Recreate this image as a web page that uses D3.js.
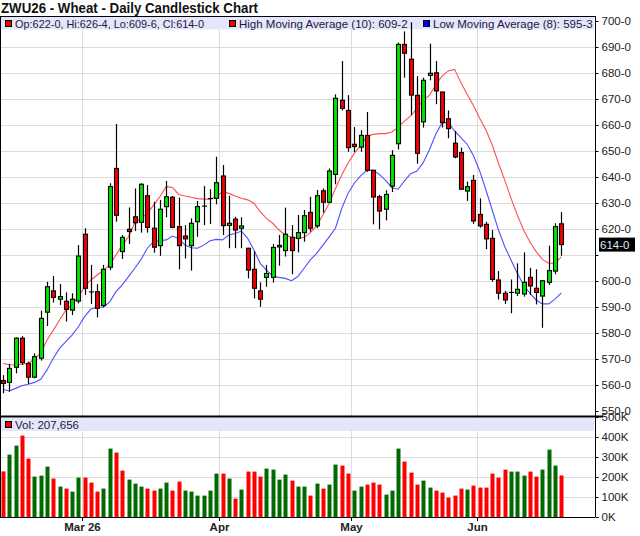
<!DOCTYPE html>
<html>
<head>
<meta charset="utf-8">
<script src="https://cdn.jsdelivr.net/npm/d3@7"></script>
<style>
  body { margin: 0; background: #fff; }
  svg text { font-family: "Liberation Sans", Arial, sans-serif; }
</style>
</head>
<body>
<div id="chart"></div>
<script>
// daily bars, oldest first
const opens = [561.7,561.0,566.8,578.0,568.3,563.0,570.3,588.0,596.2,593.0,
  592.2,588.8,592.3,618.0,595.8,595.9,590.6,605.3,643.3,611.3,
  619.9,624.7,622.6,632.8,620.3,613.6,628.6,632.2,620.9,617.3,
  613.6,622.8,628.8,631.7,631.8,640.4,621.4,623.8,620.3,612.6,
  604.5,596.2,601.4,601.4,613.1,611.7,616.8,616.4,618.6,626.4,
  621.2,634.7,630.3,641.0,669.5,665.6,652.6,651.5,656.0,642.6,
  632.4,627.6,636.5,652.8,691.0,685.3,671.4,661.2,679.1,680.1,
  672.7,662.4,653.0,649.4,634.6,638.7,625.6,621.8,616.4,600.4,
  595.3,595.6,595.3,595.0,601.4,597.2,594.2,599.5,603.8,622.0];
const highs = [563.8,568.1,578.3,578.8,569.0,572.2,588.6,599.7,601.9,598.8,
  595.6,595.3,613.8,620.3,606.2,598.8,606.2,637.6,660.4,617.7,
  628.3,635.6,637.6,636.9,630.5,631.2,638.5,632.7,632.1,621.5,
  624.1,630.8,636.5,635.3,647.8,644.6,632.8,624.7,624.5,612.8,
  611.5,599.5,606.2,614.2,617.7,628.2,621.5,625.4,627.3,632.4,
  635.0,635.6,643.3,671.8,684.6,671.5,659.2,658.0,665.0,642.6,
  633.1,634.9,650.3,691.7,696.0,699.5,678.8,678.2,691.3,684.6,
  672.7,665.6,657.7,651.3,638.2,640.8,631.8,622.8,619.6,603.8,
  596.2,600.6,606.8,611.0,605.1,604.5,600.4,613.6,622.2,626.5];
const lows = [556.8,557.4,564.5,567.7,560.4,562.6,569.4,582.7,591.7,590.8,
  584.4,586.9,591.4,594.6,591.2,586.0,589.9,604.2,622.8,608.5,
  614.2,619.2,618.6,618.6,610.9,609.7,624.5,620.3,604.5,608.7,
  604.0,617.0,621.5,621.9,629.5,617.7,612.6,612.6,612.6,601.0,
  593.3,590.1,597.8,599.4,605.9,609.4,602.6,611.0,615.1,619.0,
  620.3,626.3,629.9,637.2,665.6,649.7,649.6,649.7,642.0,621.8,
  619.9,623.3,634.2,650.6,678.2,663.8,645.1,659.0,677.2,668.0,
  659.0,654.9,647.2,635.3,630.8,622.0,620.5,612.2,599.7,592.9,
  591.2,587.6,594.2,594.0,594.6,591.0,582.0,598.5,602.6,609.75];
const closes = [560.6,566.4,578.0,568.6,563.0,570.9,585.6,597.8,593.7,594.0,
  589.1,593.0,609.6,597.2,595.8,589.5,604.5,636.3,625.3,616.8,
  619.0,622.4,637.2,620.6,613.0,627.6,632.4,620.6,613.6,616.2,
  622.2,628.6,628.8,631.7,637.8,621.3,622.2,619.6,621.2,604.2,
  597.2,593.0,602.9,612.9,613.7,618.0,611.7,618.6,625.1,620.3,
  632.8,630.3,642.3,670.3,666.4,651.3,651.7,656.0,642.6,632.3,
  626.9,633.3,648.3,691.0,687.6,671.5,649.1,677.2,679.9,673.1,
  660.9,658.6,647.7,635.3,636.3,623.1,621.2,616.2,600.6,595.3,
  592.7,595.6,596.8,599.5,598.1,595.6,600.1,604.0,620.9,614.0];
const volumes = [228000,312000,357000,407000,292000,202000,207000,252000,192000,152000,
  142000,127000,197000,197000,172000,127000,142000,342000,322000,232000,
  187000,167000,152000,142000,132000,142000,172000,132000,177000,132000,
  127000,107000,107000,132000,217000,217000,192000,92000,137000,227000,
  227000,202000,242000,237000,187000,212000,182000,152000,152000,107000,
  167000,142000,162000,262000,257000,217000,132000,152000,162000,172000,
  162000,112000,132000,342000,277000,222000,162000,182000,147000,132000,
  122000,97000,107000,142000,137000,157000,147000,147000,217000,197000,
  237000,227000,227000,207000,227000,202000,237000,337000,257000,207656];
// moving averages as drawn on the chart
const highMA = [568.3,567.8,567.7,568.0,568.3,570.0,572.2,577.3,581.0,585.0,
  588.8,590.8,594.0,597.8,600.4,602.3,604.2,606.2,610.0,613.8,
  617.0,622.4,624.1,626.0,629.2,632.4,636.3,636.0,633.3,632.7,
  632.2,631.7,631.5,631.5,632.4,634.4,633.7,632.7,631.8,631.2,
  629.9,626.7,624.1,622.2,619.6,617.7,616.8,616.4,616.8,618.6,
  621.2,625.4,629.9,635.6,640.8,645.3,649.1,652.0,655.6,656.4,
  656.7,656.7,657.3,659.2,661.5,663.5,666.4,669.5,671.5,675.4,
  678.8,680.8,681.4,676.3,671.8,667.5,662.6,658.1,652.3,645.3,
  638.8,631.8,625.4,619.6,615.1,611.3,608.3,606.8,606.8,609.25];
const lowMA = [558.3,557.7,558.7,559.7,560.3,561.0,562.2,565.8,570.3,574.1,
  576.7,579.2,582.4,586.3,589.2,589.9,589.9,592.0,595.9,598.5,
  601.7,604.9,608.3,612.6,615.1,615.5,615.8,617.3,616.4,613.8,
  612.8,612.6,613.8,615.5,616.0,615.8,617.7,618.3,619.2,616.4,
  611.9,606.8,604.2,601.9,601.4,601.0,600.1,601.7,604.9,608.1,
  610.6,613.8,617.0,620.3,627.9,633.7,637.6,640.4,642.6,642.6,
  641.0,638.7,635.9,635.3,638.5,641.3,642.3,645.5,650.6,656.4,
  660.9,660.9,657.7,655.1,652.6,648.3,642.3,635.0,627.3,619.6,
  613.2,608.1,603.0,598.5,595.3,592.7,591.2,591.2,593.0,595.375];

const monthIdx = [13, 35, 56, 76];
const monthLabels = ["Mar 26", "Apr", "May", "Jun"];
const priceTicks = d3.range(550, 701, 10);
const volTicks = [0, 100000, 200000, 300000, 400000, 500000];

const W = 640, H = 536;
const plotR = 595;
const priceTop = 16, sepY = 416.5, volBottom = 517;

const bars = opens.map((o, i) => ({
  i, o, h: highs[i], l: lows[i], c: closes[i], v: volumes[i],
  up: i === 0 ? closes[i] > opens[i] : closes[i] >= closes[i - 1]
}));

// prices are quoted in eighths: 626.5 -> "626-4"
const fmtPrice = p => {
  const w = Math.floor(p + 1e-9);
  return w + "-" + Math.round((p - w) * 8);
};

const svg = d3.select("#chart").append("svg")
  .attr("width", W).attr("height", H);

const x = d3.scaleLinear().domain([0, bars.length - 1]).range([3.1, 561.2]);
const y = d3.scaleLinear().domain([550, 700]).range([411, 21]);
const yv = d3.scaleLinear().domain([0, 500000]).range([volBottom, 417]);
const monthX = d => Math.round(x(d) - 3.1) + 0.5;

// title
svg.append("text")
  .attr("x", 1).attr("y", 13)
  .attr("textLength", 257).attr("lengthAdjust", "spacingAndGlyphs")
  .style("font-size", "15px").style("font-weight", "bold").style("fill", "#111")
  .text("ZWU26 - Wheat - Daily Candlestick Chart");

// grids
const grid = svg.append("g").attr("stroke", "#dcdcdc").attr("stroke-width", 1);
grid.selectAll(".hg").data(priceTicks.filter(d => d > 550)).join("line")
  .attr("x1", 0).attr("x2", plotR)
  .attr("y1", d => Math.round(y(d)) + 0.5).attr("y2", d => Math.round(y(d)) + 0.5);
grid.selectAll(".vg").data(volTicks.slice(1, 5)).join("line")
  .attr("x1", 0).attr("x2", plotR)
  .attr("y1", d => Math.round(yv(d)) + 0.5).attr("y2", d => Math.round(yv(d)) + 0.5);
grid.selectAll(".mg").data(monthIdx).join("line")
  .attr("x1", monthX).attr("x2", monthX)
  .attr("y1", priceTop).attr("y2", volBottom);

// legend bands
svg.append("rect").attr("x", 1).attr("y", 16.5).attr("width", plotR - 2).attr("height", 13)
  .attr("fill", "#e6e6fa");
svg.append("rect").attr("x", 1).attr("y", 418).attr("width", plotR - 2).attr("height", 13)
  .attr("fill", "#e6e6fa");

// moving averages
const maLine = arr => d3.line().x((d, i) => x(i)).y(d => y(d))(arr);
svg.append("path").attr("d", maLine(highMA))
  .attr("fill", "none").attr("stroke", "#ff3030").attr("stroke-width", 1.1).attr("opacity", 0.85);
svg.append("path").attr("d", maLine(lowMA))
  .attr("fill", "none").attr("stroke", "#3030ff").attr("stroke-width", 1.1).attr("opacity", 0.85);

// candles
const cg = svg.append("g");
const candle = cg.selectAll("g").data(bars).join("g");
candle.append("line")
  .attr("x1", d => Math.round(x(d.i)) + 0.5).attr("x2", d => Math.round(x(d.i)) + 0.5)
  .attr("y1", d => y(d.h)).attr("y2", d => y(d.l))
  .attr("stroke", "#000").attr("stroke-width", 1.2);
candle.append("rect")
  .attr("x", d => Math.round(x(d.i)) - 1.5)
  .attr("width", 4)
  .attr("y", d => y(Math.max(d.o, d.c)))
  .attr("height", d => Math.max(0.01, Math.abs(y(d.o) - y(d.c))))
  .attr("fill", d => d.c > d.o ? "#00e400" : d.c < d.o ? "#f00000" : "#000")
  .attr("stroke", "#000").attr("stroke-width", 1.1);

// volume bars
svg.append("g").selectAll("rect").data(bars).join("rect")
  .attr("x", d => Math.round(x(d.i)) - 1.5)
  .attr("width", 4)
  .attr("y", d => yv(d.v))
  .attr("height", d => yv(0) - yv(d.v))
  .attr("fill", d => d.up ? "#006a00" : "#ff0000");

// legend texts
const last = bars[bars.length - 1];
const legend = [
  {x: 5, color: "#f00000", len: 189, text: `Op:${fmtPrice(last.o)}, Hi:${fmtPrice(last.h)}, Lo:${fmtPrice(last.l)}, Cl:${fmtPrice(last.c)}`},
  {x: 229, color: "#f00000", len: null, text: `High Moving Average (10): ${fmtPrice(highMA[highMA.length - 1])}`},
  {x: 423, color: "#0000ff", len: null, text: `Low Moving Average (8): ${fmtPrice(lowMA[lowMA.length - 1])}`}
];
const lg = svg.append("g").selectAll("g").data(legend).join("g")
  .attr("transform", d => `translate(${d.x},0)`);
lg.append("rect").attr("x", 0.5).attr("y", 20.5).attr("width", 6).attr("height", 6)
  .attr("fill", d => d.color).attr("stroke", "#000");
lg.append("text").attr("x", 10).attr("y", 27.5)
  .attr("textLength", d => d.len).attr("lengthAdjust", "spacingAndGlyphs")
  .style("font-size", "11.5px").style("fill", "#1a1a40")
  .text(d => d.text);

svg.append("rect").attr("x", 5.5).attr("y", 421.5).attr("width", 6).attr("height", 6)
  .attr("fill", "#f00000").attr("stroke", "#000");
svg.append("text").attr("x", 15).attr("y", 428.5)
  .style("font-size", "11.5px").style("fill", "#1a1a40")
  .text("Vol: " + d3.format(",")(last.v));

// frame
svg.append("line").attr("x1", 0.5).attr("x2", 0.5).attr("y1", priceTop).attr("y2", volBottom)
  .attr("stroke", "#000");
svg.append("line").attr("x1", 0).attr("x2", plotR).attr("y1", priceTop + 0.5).attr("y2", priceTop + 0.5)
  .attr("stroke", "#000");
svg.append("line").attr("x1", 0).attr("x2", plotR + 8).attr("y1", sepY).attr("y2", sepY)
  .attr("stroke", "#000").attr("stroke-width", 2);
svg.append("line").attr("x1", 0).attr("x2", plotR).attr("y1", volBottom + 0.5).attr("y2", volBottom + 0.5)
  .attr("stroke", "#000");
svg.append("g").selectAll("line").data(monthIdx).join("line")
  .attr("x1", monthX).attr("x2", monthX)
  .attr("y1", volBottom + 1).attr("y2", volBottom + 4)
  .attr("stroke", "#000");

// price axis
const lastY = y(last.c);
const pAxis = svg.append("g").attr("transform", `translate(${plotR + 0.5},0)`)
  .call(d3.axisRight(y).tickValues(priceTicks).tickSize(3).tickPadding(3).tickFormat(d => d + "-0"));
pAxis.select(".domain").attr("d", `M0,${priceTop}V${volBottom}`).attr("stroke", "#000");
pAxis.selectAll(".tick text")
  .style("font-size", "11.5px").style("fill", "#222")
  .attr("opacity", d => Math.abs(y(d) - lastY) < 12 ? 0 : 1);

// volume axis
const vAxis = svg.append("g").attr("transform", `translate(${plotR + 0.5},0)`)
  .call(d3.axisRight(yv).tickValues(volTicks).tickSize(3).tickPadding(3)
    .tickFormat(d => (d / 1000) + "K"));
vAxis.select(".domain").remove();
vAxis.selectAll(".tick text").style("font-size", "11.5px").style("fill", "#222");

// last price marker
svg.append("rect").attr("x", plotR + 4).attr("y", lastY - 7).attr("width", 36).attr("height", 14)
  .attr("fill", "#000");
svg.append("text").attr("x", plotR + 5).attr("y", lastY + 4)
  .style("font-size", "11.5px").style("fill", "#dde8ff")
  .text(fmtPrice(last.c));

// month labels
svg.append("g").selectAll("text").data(monthIdx).join("text")
  .attr("x", monthX)
  .attr("y", 531)
  .attr("text-anchor", "middle")
  .style("font-size", "11.5px").style("font-weight", "bold").style("fill", "#222")
  .text((d, i) => monthLabels[i]);
</script>
</body>
</html>
